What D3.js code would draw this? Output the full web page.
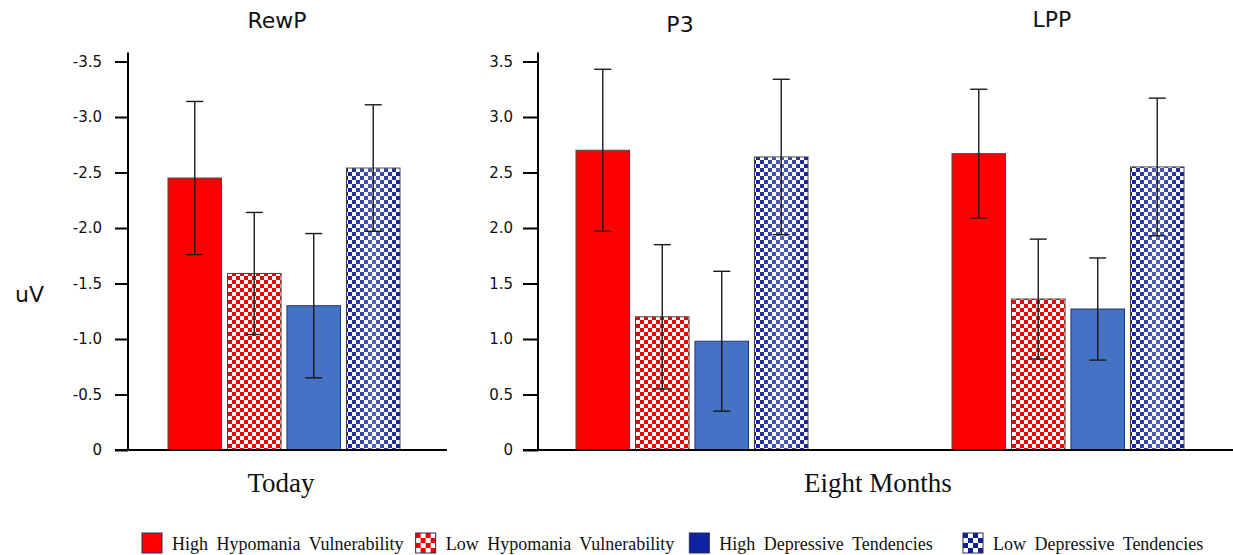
<!DOCTYPE html>
<html>
<head>
<meta charset="utf-8">
<script src="https://cdn.jsdelivr.net/npm/d3@7"></script>
<style>
  html, body { margin: 0; padding: 0; background: #fff; }
  svg { display: block; }
  .ttl { font-family: "DejaVu Sans", Verdana, sans-serif; font-size: 22px; fill: #111; }
  .tick text { font-family: "DejaVu Sans", Verdana, sans-serif; font-size: 15px; fill: #111; }
  .cat { font-family: "Liberation Serif", "Times New Roman", serif; font-size: 27px; fill: #111; }
  .leg { font-family: "Liberation Serif", "Times New Roman", serif; font-size: 18px; fill: #111; word-spacing: 4px; }
</style>
</head>
<body>
<svg id="chart" width="1233" height="555"></svg>
<script>
// data
const groups = ['High Hypomania Vulnerability', 'Low Hypomania Vulnerability',
                'High Depressive Tendencies', 'Low Depressive Tendencies'];
const rewpMeans  = [-2.45, -1.59, -1.30, -2.54];
const rewpErrors = [0.69, 0.55, 0.65, 0.57];
const p3Means    = [2.70, 1.20, 0.98, 2.64];
const p3Errors   = [0.73, 0.65, 0.63, 0.70];
const lppMeans   = [2.67, 1.36, 1.27, 2.55];
const lppErrors  = [0.58, 0.54, 0.46, 0.62];
const leftTicks  = [0, -0.5, -1.0, -1.5, -2.0, -2.5, -3.0, -3.5];
const rightTicks = [0, 0.5, 1.0, 1.5, 2.0, 2.5, 3.0, 3.5];
const timeLabels = ['Today', 'Eight Months'];

const svg = d3.select('#chart');
const defs = svg.append('defs');

// checker patterns
function checker(id, color, cell) {
  const p = defs.append('pattern')
    .attr('id', id).attr('patternUnits', 'userSpaceOnUse')
    .attr('width', cell * 2).attr('height', cell * 2);
  p.append('rect').attr('width', cell * 2).attr('height', cell * 2).attr('fill', '#fff');
  p.append('rect').attr('width', cell).attr('height', cell).attr('fill', color);
  p.append('rect').attr('x', cell).attr('y', cell).attr('width', cell).attr('height', cell).attr('fill', color);
}
checker('redCheck', '#f40000', 4);
checker('blueCheck', '#0c1f9c', 4);
checker('redCheckL', '#f40000', 5);
checker('blueCheckL', '#0c1f9c', 5);

// soft highlight on the blue checker bars
const wash = defs.append('linearGradient').attr('id', 'wash');
wash.append('stop').attr('offset', '0%').attr('stop-color', '#fff').attr('stop-opacity', 0);
wash.append('stop').attr('offset', '50%').attr('stop-color', '#fff').attr('stop-opacity', 0.3);
wash.append('stop').attr('offset', '100%').attr('stop-color', '#fff').attr('stop-opacity', 0);

const barFill = ['#ff0000', 'url(#redCheck)', '#4472c4', 'url(#blueCheck)'];
const legFill = ['#ff0000', 'url(#redCheckL)', '#0d22a0', 'url(#blueCheckL)'];

const y0 = 450, yTop = 61.5;
const yLeft  = d3.scaleLinear().domain([0, -3.5]).range([y0, yTop]);
const yRight = d3.scaleLinear().domain([0, 3.5]).range([y0, yTop]);
const fmt = v => v === 0 ? '0' : v.toFixed(1);

const inner = d3.scaleBand().domain(groups).range([-116, 116]).paddingInner(0.1);

const panels = [
  { measures: ['RewP'], means: [rewpMeans], errors: [rewpErrors], y: yLeft, ticks: leftTicks,
    axisX: 128, tickSize: 13, pad: 13, xStart: 115, xEnd: 447, range: [128, 440], label: timeLabels[0] },
  { measures: ['P3', 'LPP'], means: [p3Means, lppMeans], errors: [p3Errors, lppErrors], y: yRight, ticks: rightTicks,
    axisX: 538, tickSize: 15, pad: 10, xStart: 523, xEnd: 1233, range: [504, 1256], label: timeLabels[1] }
];
// title nudges (the source titles are not exactly centred over the bars)
const titleNudge = { RewP: [-7, 28], P3: [-12, 32], LPP: [-16, 27] };

panels.forEach(pn => {
  const x = d3.scaleBand().domain(pn.measures).range(pn.range);
  const g = svg.append('g');

  // y axis
  const ax = g.append('g')
    .attr('transform', `translate(${pn.axisX},0)`)
    .call(d3.axisLeft(pn.y).tickValues(pn.ticks).tickFormat(fmt)
      .tickSize(pn.tickSize).tickSizeOuter(0).tickPadding(pn.pad));
  ax.select('.domain').remove();
  ax.selectAll('.tick line').attr('stroke', '#000').attr('stroke-width', 2);
  g.append('line')
    .attr('x1', pn.axisX).attr('x2', pn.axisX)
    .attr('y1', y0).attr('y2', yTop - 9)
    .attr('stroke', '#000').attr('stroke-width', 2);

  pn.measures.forEach((m, mi) => {
    const cx = x(m) + x.bandwidth() / 2;
    const rows = groups.map((grp, i) => ({ grp, i, v: pn.means[mi][i], e: pn.errors[mi][i] }));

    g.append('text').attr('class', 'ttl')
      .attr('x', cx + titleNudge[m][0]).attr('y', titleNudge[m][1])
      .attr('text-anchor', 'middle').text(m);

    const bars = g.append('g').selectAll('g').data(rows).join('g');
    bars.append('rect')
      .attr('x', d => cx + inner(d.grp))
      .attr('y', d => pn.y(d.v))
      .attr('width', inner.bandwidth())
      .attr('height', d => y0 - pn.y(d.v))
      .attr('fill', d => barFill[d.i])
      .attr('stroke', d => d.i === 2 ? '#1d3575' : '#444')
      .attr('stroke-width', 1);
    bars.filter(d => d.i === 3).append('rect')
      .attr('x', d => cx + inner(d.grp))
      .attr('y', d => pn.y(d.v))
      .attr('width', inner.bandwidth())
      .attr('height', d => y0 - pn.y(d.v))
      .attr('fill', 'url(#wash)');

    // error bars
    const sgn = pn.y === yLeft ? -1 : 1;
    const eb = g.append('g').selectAll('g').data(rows).join('g')
      .attr('stroke', '#1a1a1a').attr('stroke-width', 1.4);
    const ex = d => cx + inner(d.grp) + inner.bandwidth() / 2;
    eb.append('line')
      .attr('x1', ex).attr('x2', ex)
      .attr('y1', d => pn.y(d.v - sgn * d.e)).attr('y2', d => pn.y(d.v + sgn * d.e));
    eb.append('line')
      .attr('x1', d => ex(d) - 8.5).attr('x2', d => ex(d) + 8.5)
      .attr('y1', d => pn.y(d.v + sgn * d.e)).attr('y2', d => pn.y(d.v + sgn * d.e));
    eb.append('line')
      .attr('x1', d => ex(d) - 8.5).attr('x2', d => ex(d) + 8.5)
      .attr('y1', d => pn.y(d.v - sgn * d.e)).attr('y2', d => pn.y(d.v - sgn * d.e));
  });

  // x axis line
  g.append('line')
    .attr('x1', pn.xStart).attr('x2', pn.xEnd)
    .attr('y1', y0).attr('y2', y0)
    .attr('stroke', '#000').attr('stroke-width', 2);

  g.append('text').attr('class', 'cat')
    .attr('x', (pn.xStart + pn.xEnd) / 2).attr('y', 492)
    .attr('text-anchor', 'middle').text(pn.label);
});

// y label
svg.append('text').attr('class', 'ttl').attr('x', 15).attr('y', 302).text('uV');

// legend
const lx = d3.scalePoint().domain(groups).range([142, 963]);
const leg = svg.append('g').selectAll('g').data(groups).join('g')
  .attr('transform', d => `translate(${lx(d)},533)`);
leg.append('rect')
  .attr('width', 20).attr('height', 20)
  .attr('fill', (d, i) => legFill[i])
  .attr('stroke', '#2a2a5a').attr('stroke-width', 1);
leg.append('text').attr('class', 'leg')
  .attr('x', 30).attr('y', 17).text(d => d);
</script>
</body>
</html>
